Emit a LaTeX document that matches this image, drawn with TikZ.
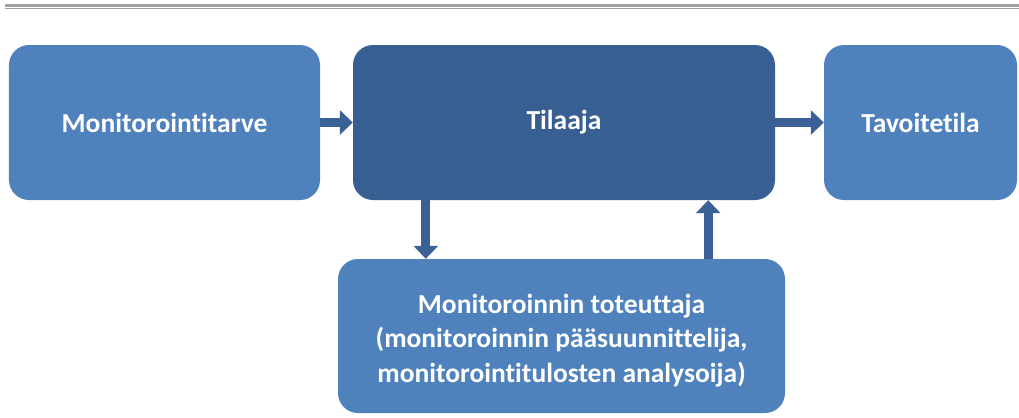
\documentclass[tikz,border=0pt]{standalone}
\usepackage{fontspec}
\setmainfont{Carlito}[Ligatures=NoCommon]
\usetikzlibrary{arrows.meta}
\definecolor{boxlight}{HTML}{4F81BD}
\definecolor{boxdark}{HTML}{385F92}
\definecolor{arrowblue}{HTML}{3A6096}
\definecolor{rulegray}{HTML}{A0A0A0}
\tikzset{
  block/.style={rounded corners=20bp, inner sep=0pt, align=center,
    text=white, font=\bfseries\fontsize{27.5bp}{34.5bp}\selectfont},
  lightblock/.style={block, fill=boxlight},
  darkblock/.style={block, fill=boxdark},
  flow/.style={draw=arrowblue, line width=9bp,
    -{Triangle[width=24bp,length=13bp]}, arrowblue},
}
\begin{document}
\begin{tikzpicture}[x=1bp,y=-1bp]
  \useasboundingbox (0,0) rectangle (1019,417);
  % header rule
  \fill[rulegray] (5,4) rectangle (1019,7);
  \fill[rulegray] (5,7.8) rectangle (1019,8.8);
  % blocks
  \node[lightblock, minimum width=311bp, minimum height=155bp] (need) at (164.5,122.5) {Monitorointitarve};
  \node[darkblock, minimum width=422bp, minimum height=155bp] (order) at (564,122.5) {Tilaaja};
  \node[lightblock, minimum width=193bp, minimum height=155bp] (goal) at (920.5,122.5) {Tavoitetila};
  \node[lightblock, minimum width=447bp, minimum height=154bp] (impl) at (561.5,336)
    {\rule{0pt}{28bp}Monitoroinnin toteuttaja\\(monitoroinnin pääsuunnittelija,\\monitorointitulosten analysoija)};
  % connectors
  \draw[flow] (need.east) -- (order.west);
  \draw[flow] (order.east) -- (goal.west);
  \draw[flow] ([xshift=73bp]order.south west) -- ([xshift=73bp]order.south west |- impl.north);
  \draw[flow] ([xshift=-67bp]order.south east |- impl.north) -- ([xshift=-67bp]order.south east);
\end{tikzpicture}
\end{document}
